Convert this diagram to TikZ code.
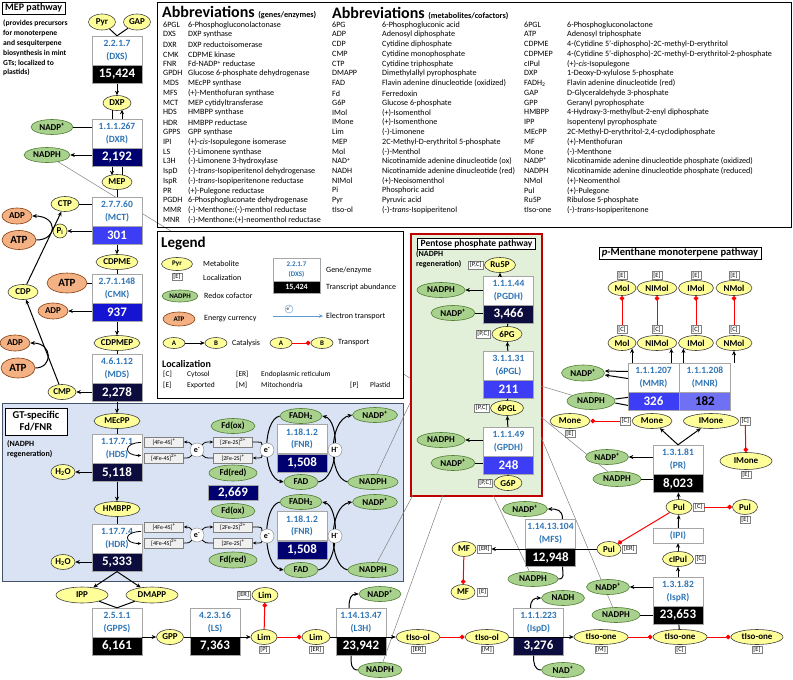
\documentclass[tikz,border=0pt]{standalone}
\usepackage{fontspec}
\setmainfont{Carlito}
\usetikzlibrary{shapes, arrows.meta, positioning, calc}
\pgfdeclarelayer{back}
\pgfdeclarelayer{mid}
\pgfsetlayers{back,mid,main}

\definecolor{metfill}{HTML}{FFFF99}
\definecolor{redoxfill}{HTML}{A9D18E}
\definecolor{redoxline}{HTML}{507E32}
\definecolor{atpfill}{HTML}{F4B183}
\definecolor{atpline}{HTML}{843C0C}
\definecolor{ecblue}{HTML}{2E75B6}
\definecolor{gtfill}{HTML}{DAE3F3}
\definecolor{gtline}{HTML}{44546A}
\definecolor{ppfill}{HTML}{E2F0D9}
\definecolor{ppline}{HTML}{C00000}
\definecolor{etblue}{HTML}{5B9BD5}
\definecolor{lvA}{HTML}{000000}
\definecolor{lvB}{HTML}{0C0C3E}
\definecolor{lvC}{HTML}{000070}
\definecolor{lvD}{HTML}{1414D2}
\definecolor{lvE}{HTML}{3D3DF5}
\definecolor{lvF}{HTML}{7070F5}

\newcommand{\fsz}[1]{\fontsize{#1}{#1}\selectfont}
% enzyme: name, centre of white part, EC, abbreviation, transcripts, fill, text colour
\newcommand{\enzbox}[7]{%
  \node[enzw] (#1) at (#2) {#3\\(#4)};
  \node[enzv, fill=#6, text=#7, below=0pt of #1] (#1v) {#5};}

\tikzset{
  met/.style={ellipse, draw=black!75, line width=0.6pt, fill=metfill, inner sep=0pt, minimum height=15, font=\bfseries\fsz{9}},
  redox/.style={met, draw=redoxline, fill=redoxfill},
  energy/.style={met, draw=atpline, fill=atpfill},
  loc/.style={draw=gray, fill=white, inner xsep=1.5pt, inner ysep=1pt, font=\fsz{6.5}},
  enzw/.style={draw=gray!70, fill=white, minimum width=50, minimum height=29, inner sep=0pt, align=center, text=ecblue, font=\bfseries\fontsize{9.5}{12.5}\selectfont},
  enzv/.style={draw=gray!70, minimum width=50, minimum height=18, inner sep=0pt, font=\bfseries\fsz{13}},
  fes/.style={draw=gray, fill=gray!12, minimum width=39, minimum height=10, inner sep=0pt, font=\fsz{6}},
  elec/.style={circle, draw=gray, fill=white, minimum size=14, inner sep=0pt, font=\bfseries\fsz{8}},
  rxn/.style={line width=1pt},
  arr/.style={line width=1pt, -{Stealth[length=4.5pt,width=4pt]}},
  earr/.style={line width=0.8pt, -{Stealth[length=3.5pt,width=3pt]}},
  tran/.style={draw=red, line width=1pt, -{Diamond[length=5pt,width=5pt]}},
  nadl/.style={draw=gray, line width=0.5pt},
  ttl/.style={draw, fill=white, inner xsep=3pt, inner ysep=1.5pt, font=\bfseries\fsz{10}},
  note/.style={align=left, inner sep=0pt, font=\bfseries\fontsize{8}{10.5}\selectfont},
  abbr/.style={anchor=west, inner sep=0pt, font=\fsz{8.1}},
  lgtxt/.style={anchor=west, inner sep=0pt, font=\fsz{8}},
}

\begin{document}
\begin{tikzpicture}[x=1pt, y=-1pt]
\useasboundingbox (0,0) rectangle (793,680);

% frames
\begin{pgfonlayer}{back}
  \node[draw=gtline, fill=gtfill, line width=1.2pt, minimum width=401, minimum height=178, inner sep=0pt, anchor=north west] (gtbox) at (2,403) {};
  \node[draw=ppline, fill=ppfill, line width=1.6pt, minimum width=131, minimum height=262, inner sep=0pt, anchor=north west] (ppbox) at (410,233) {};
\end{pgfonlayer}
\node[draw, line width=1.2pt, minimum width=634, minimum height=225, inner sep=0pt, anchor=north west] (abbrbox) at (157,2) {};
\node[draw, line width=1.2pt, fill=white, minimum width=246, minimum height=167, inner sep=0pt, anchor=north west] (legbox) at (157,231) {};

% abbreviations
\node[anchor=west, inner sep=0pt, font=\bfseries\fsz{16}] (abhead1) at (162,13) {Abbreviations {\fsz{8.2}(genes/enzymes)}};
\node[anchor=west, inner sep=0pt, font=\bfseries\fsz{16}] (abhead2) at (332,13) {Abbreviations {\fsz{8.2}(metabolites/cofactors)}};
\foreach \ab/\ds [count=\i from 0] in {6PGL/6-Phosphogluconolactonase, DXS/DXP synthase, DXR/DXP reductoisomerase,
    CMK/CDPME kinase, FNR/Fd-NADP\textsuperscript{+} reductase, GPDH/Glucose 6-phosphate dehydrogenase,
    MDS/MEcPP synthase, MFS/(+)-Menthofuran synthase, MCT/MEP cytidyltransferase, HDS/HMBPP synthase,
    HDR/HMBPP reductase, GPPS/GPP synthase, IPI/(+)-\textit{cis}-Isopulegone isomerase,
    LS/(-)-Limonene synthase, L3H/(-)-Limonene 3-hydroxylase,
    IspD/(-)-\textit{trans}-Isopiperitenol dehydrogenase, IspR/(-)-\textit{trans}-Isopiperitenone reductase,
    PR/(+)-Pulegone reductase, PGDH/6-Phosphogluconate dehydrogenase,
    MMR/(-)-Menthone:(-)-menthol reductase, MNR/(-)-Menthone:(+)-neomenthol reductase}
  \node[abbr] (gene\i) at (163,{25+9.75*\i}) {\makebox[25pt][l]{\ab}\ds};
\foreach \ab/\ds [count=\i from 0] in {6PG/6-Phosphogluconic acid, ADP/Adenosyl diphosphate,
    CDP/Cytidine diphosphate, CMP/Cytidine monophosphate, CTP/Cytidine triphosphate,
    DMAPP/Dimethylallyl pyrophosphate, FAD/Flavin adenine dinucleotide (oxidized), Fd/Ferredoxin,
    G6P/Glucose 6-phosphate, IMol/(+)-Isomenthol, IMone/(+)-Isomenthone, Lim/(-)-Limonene,
    MEP/2C-Methyl-D-erythritol 5-phosphate, Mol/(-)-Menthol,
    NAD\textsuperscript{+}/Nicotinamide adenine dinucleotide (ox), NADH/Nicotinamide adenine dinucleotide (red),
    NIMol/(+)-Neoisomenthol, Pi/Phosphoric acid, Pyr/Pyruvic acid, tIso-ol/(-)-\textit{trans}-Isopiperitenol}
  \node[abbr] (metA\i) at (332,{25+9.75*\i}) {\makebox[50pt][l]{\ab}\ds};
\foreach \ab/\ds [count=\i from 0] in {6PGL/6-Phosphogluconolactone, ATP/Adenosyl triphosphate,
    CDPME/4-(Cytidine 5'-diphospho)-2C-methyl-D-erythritol,
    CDPMEP/4-(Cytidine 5'-diphospho)-2C-methyl-D-erythritol-2-phosphate,
    cIPul/(+)-\textit{cis}-Isopulegone, DXP/1-Deoxy-D-xylulose 5-phosphate,
    FADH\textsubscript{2}/Flavin adenine dinucleotide (red), GAP/D-Glyceraldehyde 3-phosphate,
    GPP/Geranyl pyrophosphate, HMBPP/4-Hydroxy-3-methylbut-2-enyl diphosphate,
    IPP/Isopentenyl pyrophosphate, MEcPP/{2C-Methyl-D-erythritol-2,4-cyclodiphosphate},
    MF/(+)-Menthofuran, Mone/(-)-Menthone,
    NADP\textsuperscript{+}/Nicotinamide adenine dinucleotide phosphate (oxidized),
    NADPH/Nicotinamide adenine dinucleotide phosphate (reduced), NMol/(+)-Neomenthol,
    Pul/(+)-Pulegone, Ru5P/Ribulose 5-phosphate, tIso-one/(-)-\textit{trans}-Isopiperitenone}
  \node[abbr] (metB\i) at (524,{25+9.75*\i}) {\makebox[43pt][l]{\ab}\ds};

% legend
\node[anchor=west, inner sep=0pt, font=\bfseries\fsz{15}] (legttl) at (161,244) {Legend};
\node[met, minimum width=31, minimum height=13, font=\bfseries\fsz{7}] (lgpyr) at (177,264) {Pyr};
\node[loc, below=2pt of lgpyr] (lgloc) {[E]};
\node[lgtxt] (lgt1) at (203,264) {Metabolite};
\node[lgtxt] (lgt2) at (203,278) {Localization};
\node[enzw, minimum width=47, minimum height=23, font=\bfseries\fontsize{7}{9.5}\selectfont] (lgenz) at (296.5,269.5) {2.2.1.7\\(DXS)};
\node[enzv, minimum width=47, minimum height=12, fill=black, text=white, font=\bfseries\fsz{8}, below=0pt of lgenz] (lgenzv) {15,424};
\node[lgtxt] (lgt3) at (326,270) {Gene/enzyme};
\node[lgtxt] (lgt4) at (326,287) {Transcript abundance};
\node[redox, minimum width=36, minimum height=12, font=\bfseries\fsz{7}] (lgnadph) at (180,296) {NADPH};
\node[lgtxt] (lgt5) at (204,296) {Redox cofactor};
\node[energy, minimum width=32, minimum height=14, font=\bfseries\fsz{7}] (lgatp) at (179,319) {ATP};
\node[lgtxt] (lgt6) at (204,319) {Energy currency};
\coordinate (lget1) at (273,316);
\coordinate (lget2) at (323,316);
\draw[etblue, line width=0.8pt, -{Stealth[length=4pt,width=3.5pt]}] (lget1) -- (lget2);
\node[circle, draw=etblue, fill=white, minimum size=8, inner sep=0pt, font=\fsz{5}] (lgel) at (289,309) {e\textsuperscript{-}};
\node[lgtxt] (lgt7) at (326,316) {Electron transport};
\node[met, minimum width=22, minimum height=11, font=\bfseries\fsz{7}] (lga1) at (174,343) {A};
\node[met, minimum width=22, minimum height=11, font=\bfseries\fsz{7}] (lgb1) at (216,343) {B};
\draw[arr] (lga1) -- (lgb1);
\node[lgtxt] (lgt8) at (232,343) {Catalysis};
\node[met, minimum width=22, minimum height=11, font=\bfseries\fsz{7}] (lga2) at (281,343) {A};
\node[met, minimum width=22, minimum height=11, font=\bfseries\fsz{7}] (lgb2) at (322,343) {B};
\draw[tran] (lga2) -- (lgb2);
\node[lgtxt] (lgt9) at (338,343) {Transport};
\node[lgtxt, font=\bfseries\fsz{10}] (lgloch) at (162,364) {Localization};
\node[lgtxt, font=\fsz{7.5}] (lgc1) at (163,374) {[C]};
\node[lgtxt, font=\fsz{7.5}] (lgc2) at (187,374) {Cytosol};
\node[lgtxt, font=\fsz{7.5}] (lgc3) at (236,374) {[ER]};
\node[lgtxt, font=\fsz{7.5}] (lgc4) at (261,374) {Endoplasmic reticulum};
\node[lgtxt, font=\fsz{7.5}] (lgc5) at (163,385) {[E]};
\node[lgtxt, font=\fsz{7.5}] (lgc6) at (187,385) {Exported};
\node[lgtxt, font=\fsz{7.5}] (lgc7) at (236,385) {[M]};
\node[lgtxt, font=\fsz{7.5}] (lgc8) at (261,385) {Mitochondria};
\node[lgtxt, font=\fsz{7.5}] (lgc9) at (350,385) {[P]};
\node[lgtxt, font=\fsz{7.5}] (lgc10) at (370,385) {Plastid};

% MEP pathway
\node[ttl, anchor=north west] (mepttl) at (2,2) {MEP pathway};
\node[note, anchor=north west, font=\bfseries\fontsize{7.6}{9.8}\selectfont] (mepnote) at (3,20) {(provides precursors\\for monoterpene\\and sesquiterpene\\biosynthesis in mint\\GTs; localized to\\plastids)};
\node[met, minimum width=27, minimum height=16] (pyr) at (102,22) {Pyr};
\node[met, minimum width=27, minimum height=16] (gap) at (137,22) {GAP};
\enzbox{dxs}{117,50.5}{2.2.1.7}{DXS}{15,424}{lvA}{white}
\node[met, minimum width=28] (dxp) at (117,103) {DXP};
\enzbox{dxr}{117,133.5}{1.1.1.267}{DXR}{2,192}{lvC}{white}
\node[redox, minimum width=42] (nadp1) at (52,127) {NADP\textsuperscript{+}};
\node[redox, minimum width=46] (nadph1) at (47,155) {NADPH};
\node[met, minimum width=30] (mep) at (117,182) {MEP};
\enzbox{mct}{117,211.5}{2.7.7.60}{MCT}{301}{lvE}{white}
\node[met, minimum width=28] (ctp) at (65,204) {CTP};
\node[met, circle, minimum size=14] (pi) at (60,231) {P\textsubscript{i}};
\node[energy, minimum width=30, minimum height=16] (adp1) at (17,216) {ADP};
\node[energy, minimum width=34, minimum height=19, font=\bfseries\fsz{11}] (atp1) at (19,240) {ATP};
\node[met, minimum width=30] (cdp) at (23,292) {CDP};
\node[met, minimum width=42] (cdpme) at (117,262) {CDPME};
\enzbox{cmk}{117,288.5}{2.7.1.148}{CMK}{937}{lvD}{white}
\node[energy, minimum width=40, minimum height=20, font=\bfseries\fsz{11}] (atp2) at (67,283) {ATP};
\node[energy, minimum width=30, minimum height=16] (adp2) at (53,311) {ADP};
\node[met, minimum width=46] (cdpmep) at (117,343) {CDPMEP};
\enzbox{mds}{117,368.5}{4.6.1.12}{MDS}{2,278}{lvB}{white}
\node[met, minimum width=28] (cmp) at (62,392) {CMP};
\node[energy, minimum width=30, minimum height=16] (adp3) at (15,343) {ADP};
\node[energy, minimum width=34, minimum height=20, font=\bfseries\fsz{11}] (atp3) at (18,368) {ATP};

\draw[rxn] (pyr) -- (dxs.north);
\draw[rxn] (gap) -- (dxs.north);
\draw[arr] (dxsv) -- (dxp);
\draw[rxn] ($(dxp.south)+(-5,-1)$) -- ($(dxr.north)+(-5,0)$);
\draw[arr] ($(dxr.north)+(5,0)$) -- ($(dxp.south)+(5,-1)$);
\draw[rxn] (nadp1) -- (nadp1 -| dxr.west);
\draw[arr] (nadph1 -| dxrv.west) -- (nadph1);
\draw[arr] ($(dxrv.south)+(-5,0)$) -- ($(mep.north)+(-5,1)$);
\draw[rxn] ($(dxrv.south)+(5,0)$) -- ($(mep.north)+(5,1)$);
\draw[rxn] (mep) -- (mct);
\draw[rxn] (ctp) -- (ctp -| mct.west);
\draw[arr] (pi -| mctv.west) -- (pi);
\draw[arr] (cdp) -- (ctp);
\draw[arr] (atp1.east) .. controls (58,240) and (58,216) .. (adp1.east);
\draw[arr] (mctv) -- (cdpme);
\draw[rxn] (cdpme) -- (cmk);
\draw[rxn] (atp2) -- (atp2 -| cmk.west);
\draw[arr] (adp2 -| cmkv.west) -- (adp2);
\draw[arr] (cmkv) -- (cdpmep);
\draw[rxn] (cdpmep) -- (mds);
\draw[arr] (cmp -| mdsv.west) -- (cmp);
\draw[arr] (cmp) -- (cdp);
\draw[arr] (atp3.east) .. controls (53,368) and (53,343) .. (adp3.east);

% GT-specific Fd/FNR
\node[ttl, align=center, font=\bfseries\fontsize{10.5}{12}\selectfont, minimum width=62, minimum height=27] (gtttl) at (36,421.5) {GT-specific\\Fd/FNR};
\node[note, anchor=north west] (gtnote) at (7,440) {(NADPH\\regeneration)};
\node[met, minimum width=46] (mecpp) at (117,421) {MEcPP};
\enzbox{hds}{117,448.5}{1.17.7.1}{HDS}{5,118}{lvB}{white}
\node[met, minimum width=24] (h2o1) at (63,472) {H\textsubscript{2}O};
\node[met, minimum width=46] (hmbpp) at (117,509) {HMBPP};
\enzbox{hdr}{117,538.5}{1.17.7.4}{HDR}{5,333}{lvB}{white}
\node[met, minimum width=24] (h2o2) at (63,562) {H\textsubscript{2}O};

\node[fes] (fs1a) at (164,442) {[4Fe-4S]\textsuperscript{+}};
\node[fes] (fs1b) at (164,458) {[4Fe-4S]\textsuperscript{2+}};
\node[elec] (el1) at (197,450) {e\textsuperscript{-}};
\node[fes] (fs1c) at (233,442) {[2Fe-2S]\textsuperscript{2+}};
\node[fes] (fs1d) at (233,458) {[2Fe-2S]\textsuperscript{+}};
\node[elec] (el2) at (267,450) {e\textsuperscript{-}};
\node[redox, minimum width=44] (fdox1) at (233,426) {Fd(ox)};
\node[redox, minimum width=48, minimum height=16] (fdred1) at (233,473) {Fd(red)};
\node[enzv, fill=lvC, text=white, minimum height=15] (fd) at (233,492.5) {2,669};
\enzbox{fnr1}{302,439}{1.18.1.2}{FNR}{1,508}{lvC}{white}
\node[redox, minimum width=42] (fadh1) at (301,416) {FADH\textsubscript{2}};
\node[redox, minimum width=34] (fad1) at (301,482) {FAD};
\node[elec] (hyd1) at (335,450) {H\textsuperscript{-}};
\node[redox, minimum width=45] (nadp2) at (375,415) {NADP\textsuperscript{+}};
\node[redox, minimum width=50] (nadph2) at (373,482) {NADPH};

\node[fes] (fs2a) at (164,527) {[4Fe-4S]\textsuperscript{+}};
\node[fes] (fs2b) at (164,543) {[4Fe-4S]\textsuperscript{2+}};
\node[elec] (el3) at (197,535) {e\textsuperscript{-}};
\node[fes] (fs2c) at (233,527) {[2Fe-2S]\textsuperscript{2+}};
\node[fes] (fs2d) at (233,543) {[2Fe-2S]\textsuperscript{+}};
\node[elec] (el4) at (267,536) {e\textsuperscript{-}};
\node[redox, minimum width=44] (fdox2) at (233,511) {Fd(ox)};
\node[redox, minimum width=48, minimum height=16] (fdred2) at (233,560) {Fd(red)};
\enzbox{fnr2}{302,526}{1.18.1.2}{FNR}{1,508}{lvC}{white}
\node[redox, minimum width=42] (fadh2) at (301,502) {FADH\textsubscript{2}};
\node[redox, minimum width=34] (fad2) at (301,570) {FAD};
\node[elec] (hyd2) at (335,536) {H\textsuperscript{-}};
\node[redox, minimum width=45] (nadp3) at (375,502) {NADP\textsuperscript{+}};
\node[redox, minimum width=50] (nadph3) at (373,570) {NADPH};

\draw[arr] (mdsv) -- (mecpp);
\draw[rxn] (mecpp) -- (hds);
\draw[arr] (h2o1 -| hdsv.west) -- (h2o1);
\draw[arr] (hdsv) -- (hmbpp);
\draw[rxn] (hmbpp) -- (hdr);
\draw[arr] (h2o2 -| hdrv.west) -- (h2o2);
\draw[earr] ($(hds.east)+(-1,-6)$) .. controls +(-18,0) and +(-18,0) .. ($(hds.east)+(-1,7)$);
\draw[earr] ($(hdr.east)+(-1,-7)$) .. controls +(-18,0) and +(-18,0) .. ($(hdr.east)+(-1,5)$);

\draw[earr] (el1.north west) .. controls (189,442) .. (fs1a.east);
\draw[earr] (el1.north east) .. controls (205,442) .. (fs1c.west);
\draw[line width=0.8pt] (fs1b.east) .. controls (189,458) .. (el1.south west);
\draw[line width=0.8pt] (fs1d.west) .. controls (205,458) .. (el1.south east);
\draw[line width=0.8pt] (fs1c.east) .. controls (262,442) .. (el2.north west);
\draw[earr] (el2.south west) .. controls (262,458) .. (fs1d.east);
\draw[earr] (el3.north west) .. controls (189,527) .. (fs2a.east);
\draw[earr] (el3.north east) .. controls (205,527) .. (fs2c.west);
\draw[line width=0.8pt] (fs2b.east) .. controls (189,543) .. (el3.south west);
\draw[line width=0.8pt] (fs2d.west) .. controls (205,543) .. (el3.south east);
\draw[line width=0.8pt] (fs2c.east) .. controls (262,527) .. (el4.north west);
\draw[earr] (el4.south west) .. controls (262,543) .. (fs2d.east);

% GPP and limonene branch
\node[met, minimum width=52, minimum height=16] (ipp) at (82,595) {IPP};
\node[met, minimum width=52, minimum height=16] (dmapp) at (152,595) {DMAPP};
\enzbox{gpps}{117,622.5}{2.5.1.1}{GPPS}{6,161}{lvA}{white}
\node[met, minimum width=27] (gpp) at (170,637) {GPP};
\enzbox{ls}{215,622.5}{4.2.3.16}{LS}{7,363}{lvA}{white}
\node[met, minimum width=26] (limp) at (264,637) {Lim};
\node[loc, below=1pt of limp] (limpl) {[P]};
\node[met, minimum width=26] (limer1) at (265,595) {Lim};
\node[loc, left=1pt of limer1] (limer1l) {[ER]};
\node[met, minimum width=28] (limer2) at (316,637) {Lim};
\node[loc, below=1pt of limer2] (limer2l) {[ER]};
\enzbox{lth}{361,622.5}{1.14.13.47}{L3H}{23,942}{lvA}{white}
\node[redox, minimum width=42] (nadp4) at (380,594) {NADP\textsuperscript{+}};
\node[redox, minimum width=44] (nadph4) at (380,670) {NADPH};
\node[met, minimum width=44] (tolER) at (418,637) {tIso-ol};
\node[loc, below=1pt of tolER] (tolERl) {[ER]};
\node[met, minimum width=44] (tolM) at (487,637) {tIso-ol};
\node[loc, below=1pt of tolM] (tolMl) {[M]};
\enzbox{ispd}{538.5,622.5}{1.1.1.223}{IspD}{3,276}{lvB}{white}
\node[redox, minimum width=43] (nadh) at (563,598) {NADH};
\node[redox, minimum width=43] (nad) at (563,670) {NAD\textsuperscript{+}};
\node[met, minimum width=54] (toneM) at (601,637) {tIso-one};
\node[loc, below=1pt of toneM] (toneMl) {[M]};
\node[met, minimum width=54] (toneC) at (680,637) {tIso-one};
\node[loc, below=1pt of toneC] (toneCl) {[C]};
\node[met, minimum width=52] (toneE) at (757,637) {tIso-one};
\node[loc, below=1pt of toneE] (toneEl) {[E]};

\draw[arr] (hdrv.south) -- (ipp);
\draw[arr] (hdrv.south) -- (dmapp);
\draw[rxn] (ipp) -- (gpps.north);
\draw[rxn] (dmapp) -- (gpps.north);
\draw[arr] (gpp -| gpps.east) -- (gpp);
\draw[arr] (gpp) -- (limp);
\draw[tran] (limp) -- (limer1);
\draw[tran] (limp) -- (limer2);
\draw[arr] (limer2) -- (tolER);
\draw[arr] ($(lth.north)+(-12,0)$) .. controls +(0,-9) and +(-8,0) .. (nadp4.west);
\draw[rxn] (nadph4.west) .. controls +(-7,0) and +(0,7) .. ($(lthv.south)+(-10,0)$);
\draw[tran] (tolER) -- (tolM);
\draw[arr] (tolM) -- (toneM);
\draw[arr] ($(ispd.north)+(-8,0)$) .. controls +(0,-8) and +(-7,0) .. (nadh.west);
\draw[rxn] (nad.west) .. controls +(-7,0) and +(0,7) .. ($(ispdv.south)+(-5,0)$);
\draw[tran] (toneM) -- (toneC);
\draw[tran] (toneC) -- (toneE);

% pulegone / menthofuran branch
\enzbox{ispr}{678,591.5}{1.3.1.82}{IspR}{23,653}{lvA}{white}
\node[redox, minimum width=43] (nadp6) at (608,587) {NADP\textsuperscript{+}};
\node[redox, minimum width=48] (nadph6) at (616,615) {NADPH};
\node[met, minimum width=31] (cipul) at (678,559) {cIPul};
\node[loc, right=1pt of cipul] (cipull) {[C]};
\node[enzw, minimum height=15] (ipi) at (678,535.5) {(IPI)};
\node[met, minimum width=26] (pulC) at (679,507) {Pul};
\node[loc, right=1pt of pulC] (pulCl) {[C]};
\node[met, minimum width=25] (pulE) at (745,507) {Pul};
\node[loc, below=1pt of pulE] (pulEl) {[E]};
\node[met, minimum width=24] (pulER) at (609,549) {Pul};
\node[loc, right=1pt of pulER] (pulERl) {[ER]};
\enzbox{mfs}{550.5,533.5}{1.14.13.104}{MFS}{12,948}{lvA}{white}
\node[redox, minimum width=45] (nadp7) at (525,509) {NADP\textsuperscript{+}};
\node[redox, minimum width=50] (nadph7) at (533,579) {NADPH};
\node[met, minimum width=24] (mfER) at (464,549) {MF};
\node[loc, right=1pt of mfER] (mfERl) {[ER]};
\node[met, minimum width=24] (mfE) at (463,592) {MF};
\node[loc, right=2pt of mfE] (mfEl) {[E]};

\draw[rxn] (toneC) -- (isprv);
\draw[arr] (ispr) -- (cipul);
\draw[arr] (nadp6 -| ispr.west) -- (nadp6);
\draw[rxn] (nadph6) -- (nadph6 -| isprv.west);
\draw[arr] (cipul) -- (ipi);
\draw[arr] (ipi) -- (pulC);
\draw[tran] (pulCl) -- (pulE);
\draw[tran] (pulC) -- (pulER);
\draw[arr] (pulER) -- (mfERl);
\draw[arr] ($(mfs.north)+(12,0)$) .. controls +(0,-9) and +(9,0) .. (nadp7.east);
\draw[rxn] (nadph7.east) .. controls +(7,0) and +(0,7) .. ($(mfsv.south)+(12,0)$);
\draw[tran] (mfER) -- (mfE);

% p-menthane monoterpene pathway
\node[ttl, font=\bfseries\fsz{10.5}] (pmttl) at (680,253) {\textit{p}-Menthane monoterpene pathway};
\enzbox{pr}{678,459.5}{1.3.1.81}{PR}{8,023}{lvA}{white}
\node[redox, minimum width=43] (nadp8) at (607,457) {NADP\textsuperscript{+}};
\node[redox, minimum width=48] (nadph8) at (617,479) {NADPH};
\node[met, minimum width=40] (moneC) at (652,421) {Mone};
\node[loc, left=1pt of moneC] (moneCl) {[C]};
\node[met, minimum width=40] (moneE) at (570,421) {Mone};
\node[loc, below=1pt of moneE] (moneEl) {[E]};
\node[met, minimum width=55] (imoneC) at (711,421) {IMone};
\node[loc, right=1pt of imoneC] (imoneCl) {[C]};
\node[met, minimum width=52, minimum height=17] (imoneE) at (746,461) {IMone};
\node[loc, below=1pt of imoneE] (imoneEl) {[E]};
\node[enzw, minimum width=51] (mmr) at (653.5,377.5) {1.1.1.207\\(MMR)};
\node[enzv, minimum width=51, fill=lvE, text=white, below=0pt of mmr] (mmrv) {326};
\node[enzw, minimum width=51, right=0pt of mmr] (mnr) {1.1.1.208\\(MNR)};
\node[enzv, minimum width=51, fill=lvF, text=black, below=0pt of mnr] (mnrv) {182};
\node[redox, minimum width=43, minimum height=16] (nadp5) at (583,373) {NADP\textsuperscript{+}};
\node[redox, minimum width=48, minimum height=17] (nadph5) at (591,401) {NADPH};
\node[met, minimum width=28] (mol1) at (622,343) {Mol};
\node[met, minimum width=40] (nimol1) at (657,343) {NIMol};
\node[met, minimum width=35] (imol1) at (696,343) {IMol};
\node[met, minimum width=36] (nmol1) at (734,343) {NMol};
\node[loc, above=2pt of mol1] (mol1l) {[C]};
\node[loc, above=2pt of nimol1] (nimol1l) {[C]};
\node[loc, above=2pt of imol1] (imol1l) {[C]};
\node[loc, above=2pt of nmol1] (nmol1l) {[C]};
\node[met, minimum width=28] (mol2) at (622,288) {Mol};
\node[met, minimum width=40] (nimol2) at (657,288) {NIMol};
\node[met, minimum width=35] (imol2) at (696,288) {IMol};
\node[met, minimum width=36] (nmol2) at (734,288) {NMol};
\node[loc, above=1pt of mol2] (mol2l) {[E]};
\node[loc, above=1pt of nimol2] (nimol2l) {[E]};
\node[loc, above=1pt of imol2] (imol2l) {[E]};
\node[loc, above=1pt of nmol2] (nmol2l) {[E]};

\draw[arr] (pulC) -- (prv);
\draw[arr] (nadp8 -| pr.west) -- (nadp8);
\draw[rxn] (nadph8) -- (nadph8 -| prv.west);
\draw[arr] (pr.north) -- (moneC);
\draw[arr] (pr.north) -- (imoneC);
\draw[tran] (moneCl) -- (moneE);
\draw[tran] (imoneCl) -- (imoneE);
\draw[arr] ($(mmr.west)+(0,-6)$) -- ($(nadp5.east)+(0,-2)$);
\draw[arr] ($(mmr.west)+(0,1)$) -- ($(nadp5.east)+(0,2)$);
\draw[rxn] ($(nadph5.east)+(0,-2)$) -- ($(mmrv.west)+(0,-4)$);
\draw[rxn] ($(nadph5.east)+(0,2)$) -- ($(mmrv.west)+(0,4)$);
\draw[arr] (mmr.north -| mol1.south east) -- (mol1.south east);
\draw[arr] (mmr.north -| nimol1.south east) -- (nimol1.south east);
\draw[arr] (mnr.north -| imol1.south west) -- (imol1.south west);
\draw[arr] (mnr.north -| nmol1.south) -- (nmol1.south);
\draw[tran] (mol1l) -- (mol2);
\draw[tran] (nimol1l) -- (nimol2);
\draw[tran] (imol1l) -- (imol2);
\draw[tran] (nmol1l) -- (nmol2);

% pentose phosphate pathway
\node[ttl, font=\bfseries\fsz{9.5}] (ppttl) at (476.5,243.5) {Pentose phosphate pathway};
\node[note, anchor=north west] (ppnote) at (416,250) {(NADPH\\regeneration)};
\node[met, minimum width=31] (ru5p) at (500,265) {Ru5P};
\node[loc, left=1pt of ru5p] (ru5pl) {[P,C]};
\enzbox{pgdh}{508.5,290.5}{1.1.1.44}{PGDH}{3,466}{lvB}{white}
\node[redox, minimum width=48] (nadph9) at (441,290) {NADPH};
\node[redox, minimum width=44] (nadp9) at (453,313) {NADP\textsuperscript{+}};
\node[met, minimum width=30] (pg6) at (507,334) {6PG};
\node[loc, left=1pt of pg6] (pg6l) {[P,C]};
\enzbox{pgl}{508.5,365.5}{3.1.1.31}{6PGL}{211}{lvE}{white}
\node[met, minimum width=33] (pgl6) at (507,408) {6PGL};
\node[loc, left=1pt of pgl6] (pgl6l) {[P,C]};
\enzbox{gpdh}{508.5,441.5}{1.1.1.49}{GPDH}{248}{lvE}{white}
\node[redox, minimum width=48] (nadph10) at (441,440) {NADPH};
\node[redox, minimum width=44] (nadp10) at (453,463) {NADP\textsuperscript{+}};
\node[met, minimum width=28] (g6p) at (508,483) {G6P};
\node[loc, left=1pt of g6p] (g6pl) {[P,C]};

\draw[arr] (pgdh.north -| ru5p) -- (ru5p);
\draw[rxn] (pg6) -- (pgdhv);
\draw[arr] (pgl) -- (pg6);
\draw[rxn] (pgl6) -- (pglv);
\draw[arr] (gpdh) -- (pgl6);
\draw[rxn] (g6p) -- (gpdhv);
\draw[arr] (nadph9 -| pgdh.west) -- (nadph9);
\draw[rxn] (nadp9) -- (nadp9 -| pgdhv.west);
\draw[arr] (nadph10 -| gpdh.west) -- (nadph10);
\draw[rxn] (nadp10) -- (nadp10 -| gpdhv.west);

% lines under the nodes
\begin{pgfonlayer}{mid}
  \draw[arr] (fadh1.west) .. controls (262,420) and (262,478) .. (fad1.west);
  \draw[arr] (fad1.east) .. controls (340,478) and (340,420) .. (fadh1.east);
  \draw[arr] (nadph2.west) .. controls (328,478) and (328,420) .. (nadp2.west);
  \draw[arr] (fadh2.west) .. controls (262,506) and (262,566) .. (fad2.west);
  \draw[arr] (fad2.east) .. controls (340,566) and (340,506) .. (fadh2.east);
  \draw[arr] (nadph3.west) .. controls (328,566) and (328,506) .. (nadp3.west);
  % NADPH regeneration
  \coordinate (pp1) at (410,378);
  \coordinate (pp2) at (410,403);
  \coordinate (pp3) at (413,495);
  \coordinate (pp4) at (443,495);
  \coordinate (pp5) at (493,495);
  \coordinate (pp6) at (541,386);
  \coordinate (pp7) at (541,417);
  \coordinate (pp8) at (541,437);
  \draw[nadl] (nadph1) -- (pp1);
  \draw[nadl] (nadph2) -- (pp2);
  \draw[nadl] (nadph3) -- (pp3);
  \draw[nadl] (nadph4) -- (pp4);
  \draw[nadl] (nadph7) -- (pp5);
  \draw[nadl] (nadph5) -- (pp6);
  \draw[nadl] (nadph8) -- (pp7);
  \draw[nadl] (nadph6) -- (pp8);
\end{pgfonlayer}
\end{tikzpicture}
\end{document}
